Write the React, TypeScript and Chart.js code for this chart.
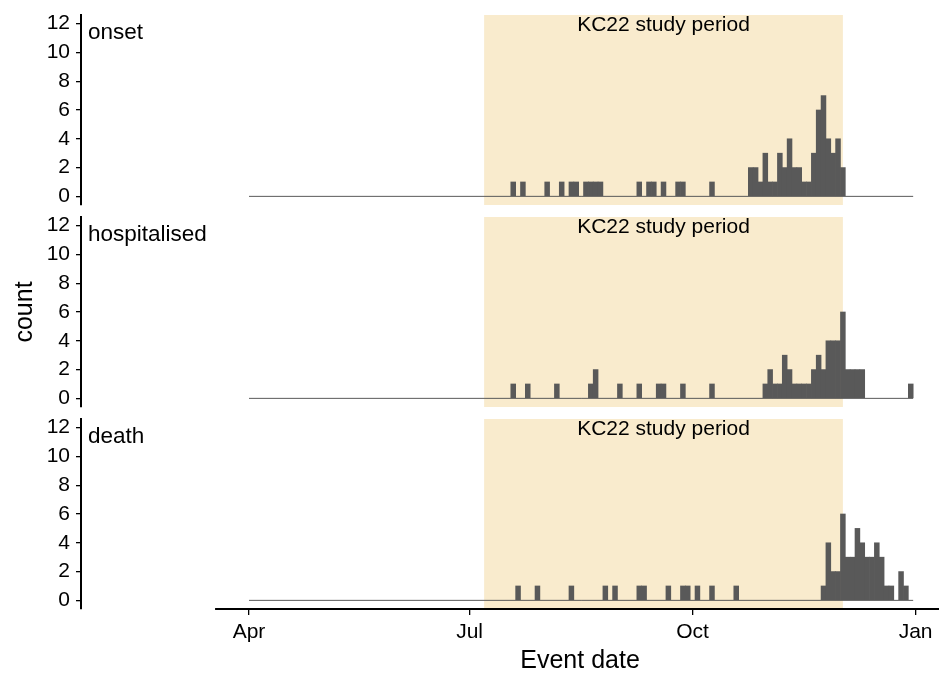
import React, { useEffect, useRef } from 'react';
import { Chart, registerables } from 'chart.js';

Chart.register(...registerables);

// ---------------- data ----------------
const ORIGIN = '2022-04-01';
const BIN_DAYS = 2;
const N_BINS = 137;

const panelNames = ['onset', 'hospitalised', 'death'];

const onsetDates = ['2022-07-18', '2022-07-22', '2022-08-01', '2022-08-07', '2022-08-11', '2022-08-13', '2022-08-17', '2022-08-19', '2022-08-21', '2022-08-23', '2022-09-08', '2022-09-12', '2022-09-14', '2022-09-18', '2022-09-24', '2022-09-26', '2022-10-08', '2022-10-24', '2022-10-26', '2022-10-28', '2022-10-30', '2022-11-01', '2022-11-03', '2022-11-05', '2022-11-07', '2022-11-09', '2022-11-11', '2022-11-13', '2022-11-15', '2022-11-17', '2022-11-19', '2022-11-21', '2022-11-23', '2022-11-25', '2022-11-27', '2022-11-29', '2022-12-01'];
const onsetCounts = [1, 1, 1, 1, 1, 1, 1, 1, 1, 1, 1, 1, 1, 1, 1, 1, 1, 2, 2, 1, 3, 1, 1, 3, 2, 4, 2, 2, 1, 1, 3, 6, 7, 4, 3, 4, 2];

const hospDates = ['2022-07-18', '2022-07-24', '2022-08-05', '2022-08-19', '2022-08-21', '2022-08-31', '2022-09-08', '2022-09-16', '2022-09-18', '2022-09-26', '2022-10-08', '2022-10-30', '2022-11-01', '2022-11-03', '2022-11-05', '2022-11-07', '2022-11-09', '2022-11-11', '2022-11-13', '2022-11-15', '2022-11-17', '2022-11-19', '2022-11-21', '2022-11-23', '2022-11-25', '2022-11-27', '2022-11-29', '2022-12-01', '2022-12-03', '2022-12-05', '2022-12-07', '2022-12-09', '2022-12-29'];
const hospCounts = [1, 1, 1, 1, 2, 1, 1, 1, 1, 1, 1, 1, 2, 1, 1, 3, 2, 1, 1, 1, 1, 2, 3, 2, 4, 4, 4, 6, 2, 2, 2, 2, 1];

const deathDates = ['2022-07-20', '2022-07-28', '2022-08-11', '2022-08-25', '2022-08-29', '2022-09-08', '2022-09-10', '2022-09-20', '2022-09-26', '2022-09-28', '2022-10-02', '2022-10-08', '2022-10-18', '2022-11-23', '2022-11-25', '2022-11-27', '2022-11-29', '2022-12-01', '2022-12-03', '2022-12-05', '2022-12-07', '2022-12-09', '2022-12-11', '2022-12-13', '2022-12-15', '2022-12-17', '2022-12-19', '2022-12-21', '2022-12-25', '2022-12-27'];
const deathCounts = [1, 1, 1, 1, 1, 1, 1, 1, 1, 1, 1, 1, 1, 1, 4, 2, 2, 6, 3, 3, 5, 4, 3, 3, 4, 3, 1, 1, 2, 1];

const studyPeriod = ['2022-07-07', '2022-12-02'];
const studyLabel = 'KC22 study period';

const xTickDates = ['2022-04-01', '2022-07-01', '2022-10-01', '2023-01-01'];
const xTickLabels = ['Apr', 'Jul', 'Oct', 'Jan'];
const yTicks = [0, 2, 4, 6, 8, 10, 12];
const xTitle = 'Event date';
const yTitle = 'count';

// ---------------- layout / style ----------------
const W = 939;
const H = 673;
const PANEL_TOP = 15;
const PANEL_H = 190;
const PANEL_PITCH = 202;
const AXIS_LEFT = 81;
const X_MIN = -69.31;
const X_MAX = 284.65;
const X_LINE_START = -14;
const Y_MIN = -0.6;
const Y_MAX = 12.6;
const FONT = "'Liberation Sans', Arial, Helvetica, sans-serif";
const BAR = '#595959';
const SHADE = '#F9EBCD';

const dayOf = (iso: string) => (Date.parse(iso) - Date.parse(ORIGIN)) / 86400000;

const panelData = [
  { dates: onsetDates, counts: onsetCounts },
  { dates: hospDates, counts: hospCounts },
  { dates: deathDates, counts: deathCounts },
];

function makeConfig(i: number): any {
  const isLast = i === panelNames.length - 1;
  const top = PANEL_TOP + PANEL_PITCH * i;
  const bottom = top + PANEL_H;
  const { dates, counts } = panelData[i];
  const bars = dates.map((d, k) => ({ x: dayOf(d) + BIN_DAYS / 2, y: counts[k] }));
  const baseline = [
    { x: 0, y: 0 },
    { x: N_BINS * BIN_DAYS, y: 0 },
  ];

  const decor = {
    id: 'decor' + i,
    beforeDatasetsDraw(chart: any) {
      const { ctx, chartArea: a, scales } = chart;
      const x0 = scales.x.getPixelForValue(dayOf(studyPeriod[0]));
      const x1 = scales.x.getPixelForValue(dayOf(studyPeriod[1]));
      ctx.save();
      ctx.fillStyle = SHADE;
      ctx.fillRect(x0, a.top, x1 - x0, a.bottom - a.top);
      ctx.restore();
    },
    afterDraw(chart: any) {
      const { ctx, chartArea: a, scales } = chart;
      const y12 = scales.y.getPixelForValue(12);
      const x0 = scales.x.getPixelForValue(dayOf(studyPeriod[0]));
      const x1 = scales.x.getPixelForValue(dayOf(studyPeriod[1]));
      ctx.save();
      ctx.fillStyle = '#000';
      ctx.font = `21px ${FONT}`;
      ctx.textAlign = 'center';
      ctx.textBaseline = 'alphabetic';
      ctx.fillText(studyLabel, (x0 + x1) / 2, y12 + 7);
      ctx.font = `22.5px ${FONT}`;
      ctx.textAlign = 'left';
      ctx.fillText(panelNames[i], a.left + 7, y12 + 15);
      if (isLast) {
        const xs = scales.x.getPixelForValue(X_LINE_START);
        ctx.strokeStyle = '#000';
        ctx.lineWidth = 2;
        ctx.beginPath();
        ctx.moveTo(xs, a.bottom);
        ctx.lineTo(a.right, a.bottom);
        ctx.stroke();
        ctx.font = `25px ${FONT}`;
        ctx.textAlign = 'center';
        ctx.fillText(xTitle, (xs + a.right) / 2 + 3, a.bottom + 59);
        ctx.translate(31.5, PANEL_TOP + (PANEL_PITCH * (panelNames.length - 1) + PANEL_H) / 2);
        ctx.rotate(-Math.PI / 2);
        ctx.fillText(yTitle, 0, 0);
      }
      ctx.restore();
    },
  };

  return {
    type: 'bar',
    data: {
      datasets: [
        {
          type: 'bar',
          data: bars,
          backgroundColor: BAR,
          borderWidth: 0,
          barPercentage: 1,
          categoryPercentage: 1,
          order: 0,
        },
        {
          type: 'line',
          data: baseline,
          borderColor: BAR,
          borderWidth: 1,
          pointRadius: 0,
          order: 1,
        },
      ],
    },
    options: {
      animation: false,
      responsive: false,
      devicePixelRatio: 1,
      events: [],
      layout: {
        padding: { top, bottom: isLast ? 0 : H - bottom, left: 0, right: 0 },
      },
      plugins: {
        legend: { display: false },
        tooltip: { enabled: false },
        title: { display: false },
      },
      scales: {
        x: {
          type: 'linear',
          display: isLast,
          min: X_MIN,
          max: X_MAX,
          offset: false,
          afterBuildTicks: (s: any) => {
            s.ticks = xTickDates.map((d) => ({ value: dayOf(d) }));
          },
          afterFit: (s: any) => {
            s.height = isLast ? H - bottom : 0;
            s.paddingLeft = 0;
            s.paddingRight = 0;
          },
          ticks: {
            autoSkip: false,
            maxRotation: 0,
            color: '#000',
            font: { family: FONT, size: 21 },
            padding: 5,
            callback: (_v: any, idx: number) => xTickLabels[idx],
          },
          grid: {
            offset: false,
            drawOnChartArea: false,
            drawTicks: true,
            tickLength: 6,
            color: '#000',
            lineWidth: 1.3,
          },
          border: { display: false },
        },
        y: {
          type: 'linear',
          min: Y_MIN,
          max: Y_MAX,
          afterBuildTicks: (s: any) => {
            s.ticks = yTicks.map((v) => ({ value: v }));
          },
          afterFit: (s: any) => {
            s.width = AXIS_LEFT;
            s.paddingTop = 0;
            s.paddingBottom = 0;
          },
          ticks: {
            color: '#000',
            font: { family: FONT, size: 21 },
            padding: 6,
          },
          grid: {
            drawOnChartArea: false,
            drawTicks: true,
            tickLength: 5,
            color: '#000',
            lineWidth: 1.3,
          },
          border: { display: true, color: '#000', width: 2 },
        },
      },
    },
    plugins: [decor],
  };
}

export default function App() {
  const refs = [useRef<HTMLCanvasElement>(null), useRef<HTMLCanvasElement>(null), useRef<HTMLCanvasElement>(null)];

  useEffect(() => {
    const charts = refs.map((r, i) => new Chart(r.current as HTMLCanvasElement, makeConfig(i)));
    return () => charts.forEach((c) => c.destroy());
  }, []);

  return (
    <div style={{ position: 'absolute', left: 0, top: 0, width: W, height: H, background: '#fff' }}>
      {refs.map((r, i) => (
        <canvas
          key={i}
          ref={r}
          width={W}
          height={H}
          style={{ position: 'absolute', left: 0, top: 0, width: W, height: H }}
        />
      ))}
    </div>
  );
}
